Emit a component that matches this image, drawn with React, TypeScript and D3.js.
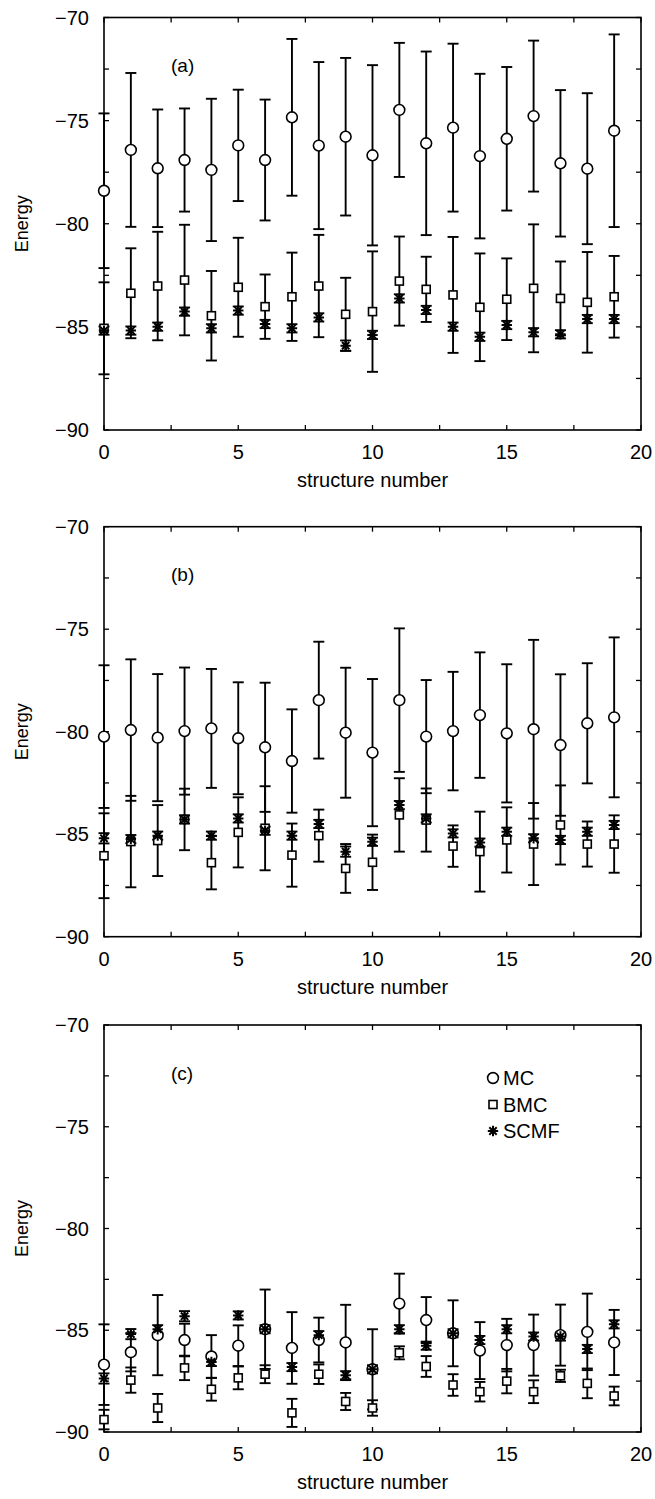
import React from 'react';
import * as d3 from 'd3';

// structure index on the x axis
const structures = [0, 1, 2, 3, 4, 5, 6, 7, 8, 9, 10, 11, 12, 13, 14, 15, 16, 17, 18, 19];

// panel (a)
const mcA = [-78.4, -76.42, -77.31, -76.91, -77.39, -76.2, -76.91, -74.84, -76.21, -75.78, -76.68, -74.48, -76.1, -75.34, -76.72, -75.88, -74.78, -77.07, -77.33, -75.49];
const mcErrA = [3.75, 3.73, 2.85, 2.5, 3.45, 2.7, 2.93, 3.8, 4.05, 3.82, 4.37, 3.25, 4.45, 4.07, 3.99, 3.48, 3.66, 3.55, 3.66, 4.67];
const bmcA = [-85.07, -83.37, -83.02, -82.73, -84.46, -83.08, -84.02, -83.54, -83.02, -84.39, -84.26, -82.78, -83.18, -83.45, -84.05, -83.66, -83.13, -83.62, -83.81, -83.54];
const bmcErrA = [2.23, 2.18, 2.63, 2.68, 2.17, 2.4, 1.56, 2.14, 2.48, 1.77, 2.92, 2.16, 1.58, 2.81, 2.61, 1.98, 3.1, 1.79, 2.44, 1.98];
const scmfA = [-85.18, -85.18, -84.99, -84.26, -85.07, -84.21, -84.86, -85.07, -84.54, -85.91, -85.39, -83.62, -84.18, -84.99, -85.48, -84.91, -85.26, -85.36, -84.62, -84.62];
const scmfErrA = [0.2, 0.2, 0.2, 0.2, 0.2, 0.2, 0.2, 0.2, 0.2, 0.25, 0.2, 0.2, 0.2, 0.2, 0.2, 0.2, 0.2, 0.2, 0.2, 0.2];

// panel (b)
const mcB = [-80.24, -79.92, -80.29, -79.97, -79.84, -80.32, -80.76, -81.43, -78.46, -80.05, -81.02, -78.46, -80.24, -79.97, -79.19, -80.08, -79.88, -80.65, -79.59, -79.3];
const mcErrB = [3.48, 3.45, 3.1, 3.1, 2.9, 2.73, 3.15, 2.52, 2.85, 3.17, 3.59, 3.5, 2.76, 2.89, 3.06, 3.37, 4.36, 3.45, 2.93, 3.9];
const bmcB = [-86.05, -85.36, -85.31, -84.28, -86.39, -84.91, -84.71, -86.02, -85.07, -86.67, -86.37, -84.06, -84.31, -85.58, -85.85, -85.28, -85.48, -84.55, -85.48, -85.48];
const bmcErrB = [2.07, 2.23, 1.73, 1.5, 1.3, 1.71, 2.05, 1.54, 1.27, 1.19, 1.35, 1.79, 1.54, 1.01, 1.95, 1.59, 2.0, 1.93, 1.1, 1.4];
const scmfB = [-85.2, -85.24, -85.07, -84.28, -85.07, -84.23, -84.83, -85.07, -84.5, -85.85, -85.37, -83.58, -84.23, -84.96, -85.41, -84.88, -85.2, -85.28, -84.88, -84.55];
const scmfErrB = [0.25, 0.2, 0.2, 0.2, 0.2, 0.2, 0.2, 0.2, 0.2, 0.25, 0.2, 0.2, 0.2, 0.2, 0.2, 0.2, 0.2, 0.2, 0.2, 0.2];

// panel (c)
const mcC = [-86.69, -86.08, -85.24, -85.48, -86.29, -85.76, -84.95, -85.87, -85.48, -85.6, -86.92, -83.69, -84.5, -85.15, -86.0, -85.73, -85.73, -85.24, -85.08, -85.6];
const mcErrC = [1.98, 0.94, 1.97, 0.8, 1.05, 1.0, 1.95, 1.76, 1.1, 1.85, 1.97, 1.47, 1.13, 1.62, 1.4, 1.29, 1.5, 1.5, 1.88, 1.6];
const bmcC = [-89.39, -87.45, -88.82, -86.85, -87.9, -87.34, -87.16, -89.06, -87.16, -88.5, -88.82, -86.11, -86.78, -87.69, -88.02, -87.5, -88.02, -87.24, -87.61, -88.23];
const bmcErrC = [0.48, 0.62, 0.69, 0.6, 0.56, 0.56, 0.44, 0.69, 0.48, 0.42, 0.38, 0.32, 0.51, 0.53, 0.48, 0.6, 0.56, 0.3, 0.73, 0.46];
const scmfC = [-87.37, -85.19, -84.95, -84.31, -86.56, -84.27, -84.95, -86.81, -85.24, -87.21, -86.92, -84.95, -85.76, -85.15, -85.48, -84.95, -85.31, -85.31, -85.92, -84.71];
const scmfErrC = [0.25, 0.25, 0.2, 0.25, 0.2, 0.2, 0.2, 0.2, 0.2, 0.2, 0.2, 0.2, 0.2, 0.2, 0.2, 0.2, 0.2, 0.2, 0.2, 0.2];

const panelTags = ['(a)', '(b)', '(c)'];
const legendLabels = ['MC', 'BMC', 'SCMF'];
const xTickLabels = [0, 5, 10, 15, 20];
const yTickLabels = [-70, -75, -80, -85, -90];

const FONT = '"Liberation Sans", Arial, Helvetica, sans-serif';

// layout of the three stacked panels
const plotLeft = 104;
const plotRight = 641;
const panelBoxes = [
  { top: 17.5, bottom: 430 },
  { top: 526.7, bottom: 936.7 },
  { top: 1025, bottom: 1432 },
];

type Series = { kind: 'circle' | 'square' | 'star'; values: number[]; errs: number[] };

const Marker = ({ kind, x, y }: { kind: string; x: number; y: number }) => {
  if (kind === 'circle') {
    return <circle cx={x} cy={y} r={5.4} fill="#fff" stroke="#000" strokeWidth={1.6} />;
  }
  if (kind === 'square') {
    return <rect x={x - 4} y={y - 4} width={8} height={8} fill="#fff" stroke="#000" strokeWidth={1.6} />;
  }
  const r = 5.2;
  const d = [0, 45, 90, 135]
    .map(a => {
      const t = (a * Math.PI) / 180;
      return `M${x - r * Math.cos(t)},${y - r * Math.sin(t)}L${x + r * Math.cos(t)},${y + r * Math.sin(t)}`;
    })
    .join('');
  return <path d={d} stroke="#000" strokeWidth={2} fill="none" />;
};

const Panel = ({ idx, series, legend }: { idx: number; series: Series[]; legend: boolean }) => {
  const { top, bottom } = panelBoxes[idx];
  const x = d3.scaleLinear().domain([0, 20]).range([plotLeft, plotRight]);
  const y = d3.scaleLinear().domain([-90, -70]).range([bottom, top]);
  const xTicks = d3.range(0, 20.01, 2.5);
  const yTicks = d3.range(-90, -69.99, 2.5);
  const tick = 5;
  const cap = 5.5;

  return (
    <g>
      {/* ticks, inward on all four sides */}
      {xTicks.map(t => (
        <g key={'xt' + t}>
          <line x1={x(t)} x2={x(t)} y1={bottom} y2={bottom - tick} stroke="#000" strokeWidth={1.3} />
          <line x1={x(t)} x2={x(t)} y1={top} y2={top + tick} stroke="#000" strokeWidth={1.3} />
        </g>
      ))}
      {yTicks.map(t => (
        <g key={'yt' + t}>
          <line x1={plotLeft} x2={plotLeft + tick} y1={y(t)} y2={y(t)} stroke="#000" strokeWidth={1.3} />
          <line x1={plotRight} x2={plotRight - tick} y1={y(t)} y2={y(t)} stroke="#000" strokeWidth={1.3} />
        </g>
      ))}
      <rect x={plotLeft} y={top} width={plotRight - plotLeft} height={bottom - top} fill="none" stroke="#000" strokeWidth={1.6} />

      {xTickLabels.map(t => (
        <text key={'xl' + t} x={x(t)} y={bottom + 29} textAnchor="middle" fontSize={20} fontFamily={FONT}>
          {t}
        </text>
      ))}
      {yTickLabels.map(t => (
        <text key={'yl' + t} x={89} y={y(t)} dy="0.35em" textAnchor="end" fontSize={20} fontFamily={FONT}>
          {'\u2212' + Math.abs(t)}
        </text>
      ))}
      <text x={(plotLeft + plotRight) / 2} y={bottom + 57} textAnchor="middle" fontSize={20} fontFamily={FONT}>
        structure number
      </text>
      <text
        transform={`translate(28,${(top + bottom) / 2}) rotate(-90)`}
        textAnchor="middle"
        fontSize={18}
        fontFamily={FONT}
      >
        Energy
      </text>
      <text x={171} y={top + 48} dy="0.35em" fontSize={19} fontFamily={FONT}>
        {panelTags[idx]}
      </text>

      {/* error bars */}
      {series.map((s, si) =>
        structures.map((k, i) => {
          const cx = x(k);
          const y1 = y(s.values[i] + s.errs[i]);
          const y2 = y(s.values[i] - s.errs[i]);
          return (
            <g key={`e${si}-${i}`} stroke="#000" strokeWidth={1.9}>
              <line x1={cx} x2={cx} y1={y1} y2={y2} />
              <line x1={cx - cap} x2={cx + cap} y1={y1} y2={y1} />
              <line x1={cx - cap} x2={cx + cap} y1={y2} y2={y2} />
            </g>
          );
        })
      )}
      {/* markers */}
      {series.map((s, si) =>
        structures.map((k, i) => <Marker key={`m${si}-${i}`} kind={s.kind} x={x(k)} y={y(s.values[i])} />)
      )}

      {legend &&
        series.map((s, si) => (
          <g key={'lg' + si}>
            <Marker kind={s.kind} x={493} y={top + 53 + si * 26.5} />
            <text x={503} y={top + 53 + si * 26.5} dy="0.36em" fontSize={20} fontFamily={FONT}>
              {legendLabels[si]}
            </text>
          </g>
        ))}
    </g>
  );
};

const App = () => {
  const data: Series[][] = [
    [
      { kind: 'circle', values: mcA, errs: mcErrA },
      { kind: 'square', values: bmcA, errs: bmcErrA },
      { kind: 'star', values: scmfA, errs: scmfErrA },
    ],
    [
      { kind: 'circle', values: mcB, errs: mcErrB },
      { kind: 'square', values: bmcB, errs: bmcErrB },
      { kind: 'star', values: scmfB, errs: scmfErrB },
    ],
    [
      { kind: 'circle', values: mcC, errs: mcErrC },
      { kind: 'square', values: bmcC, errs: bmcErrC },
      { kind: 'star', values: scmfC, errs: scmfErrC },
    ],
  ];

  return (
    <svg
      width={655}
      height={1499}
      style={{ position: 'absolute', left: 0, top: 0, background: '#fff' }}
    >
      <rect width={655} height={1499} fill="#fff" />
      {data.map((series, i) => (
        <Panel key={i} idx={i} series={series} legend={i === 2} />
      ))}
    </svg>
  );
};

export default App;
